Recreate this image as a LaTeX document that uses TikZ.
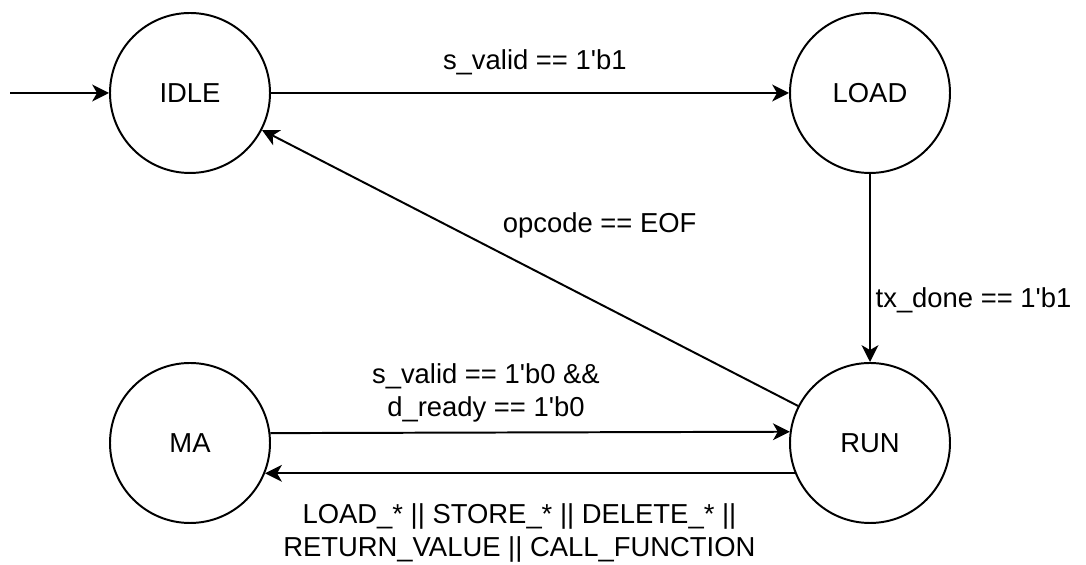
\documentclass[tikz,border=0pt]{standalone}
\usepackage{fontspec}
\setmainfont{Liberation Sans}
\usetikzlibrary{arrows.meta}
\begin{document}
\begin{tikzpicture}[
    state/.style={draw, circle, line width=1.4pt, minimum size=4cm, inner sep=0pt},
    trans/.style={line width=1.4pt, -{Stealth[length=0.42cm, width=0.42cm, inset=0.12cm]}},
    font=\fontsize{19.5}{23.5}\selectfont]
    \useasboundingbox (0,0) rectangle (27.15,14.125);
    \node[state] (idle) at (4.75,11.8) {IDLE};
    \node[state] (load) at (21.75,11.8) {LOAD};
    \node[state] (ma) at (4.75,3.05) {MA};
    \node[state] (run) at (21.75,3.05) {RUN};
    \coordinate (init) at (0.25,11.8);
    \draw[trans] (init) -- (idle);
    \draw[trans] (idle) -- (load) node[midway, xshift=0.12cm, yshift=0.77cm]{s\_valid == 1\textquotesingle b1};
    \draw[trans] (load) -- (run) node[pos=0.67, right]{tx\_done == 1\textquotesingle b1};
    \draw[trans] (run) -- (idle) node[pos=0.37, yshift=1.97cm]{opcode == EOF};
    \draw[trans] (ma.7.2) -- (run.172.8) node[pos=0.415, yshift=1cm, align=center]{s\_valid == 1\textquotesingle b0 \&\&\\d\_ready == 1\textquotesingle b0};
    \draw[trans] (run.-158) -- (ma.-22) node[pos=0.52, yshift=-1.5cm, align=center]{LOAD\_* || STORE\_* || DELETE\_* ||\\RETURN\_VALUE || CALL\_FUNCTION};
\end{tikzpicture}
\end{document}
